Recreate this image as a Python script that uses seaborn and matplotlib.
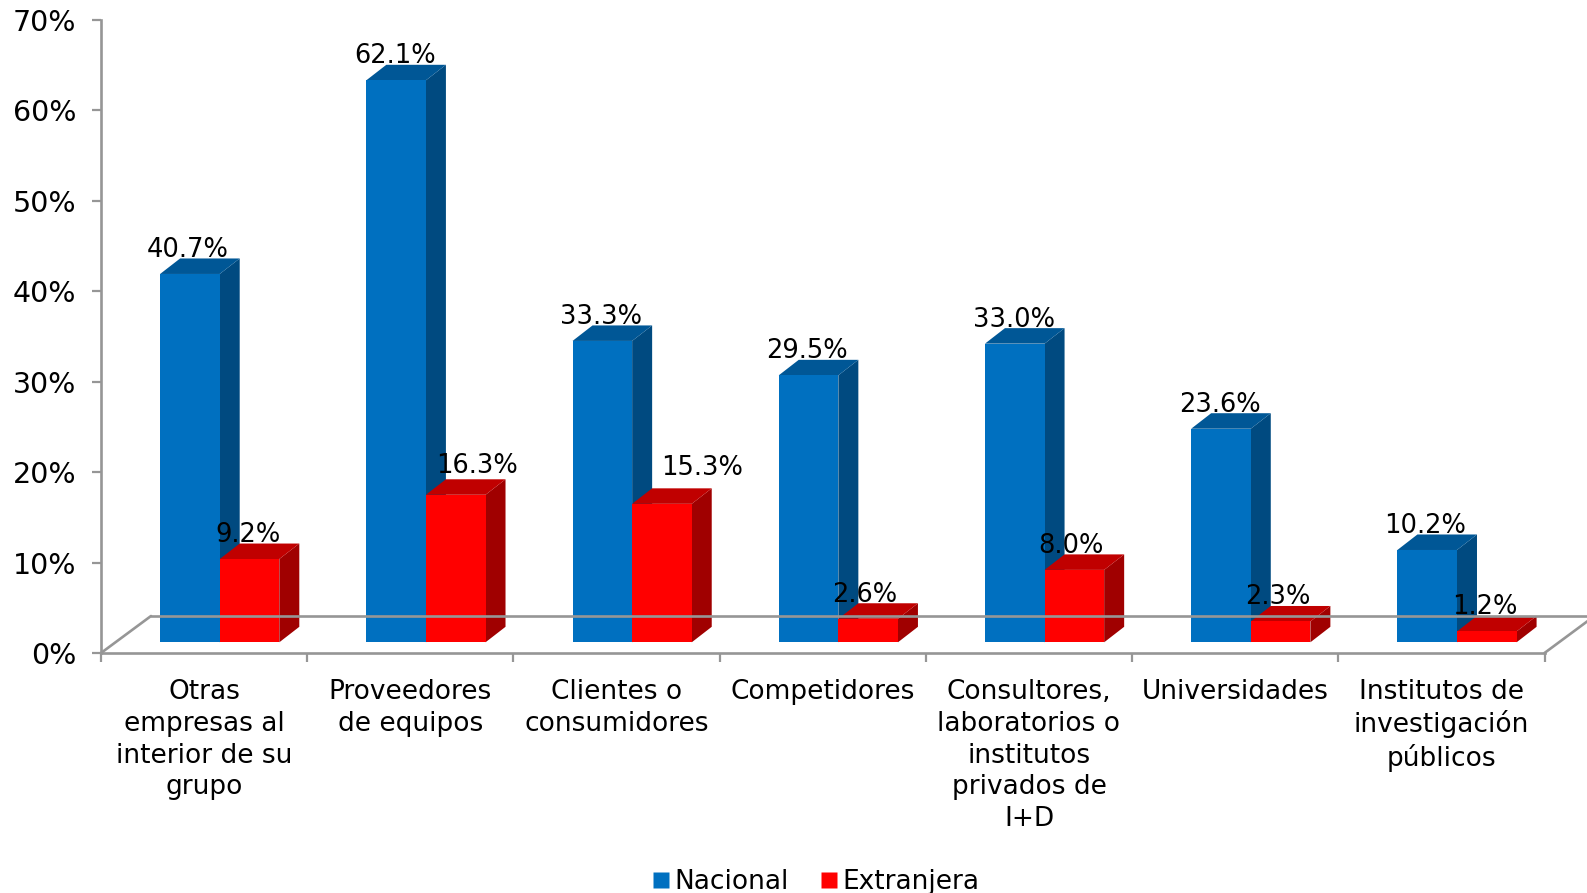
import matplotlib
matplotlib.use("Agg")
import matplotlib.pyplot as plt
from matplotlib.patches import Polygon
from matplotlib.lines import Line2D
from matplotlib.transforms import IdentityTransform, offset_copy
import numpy as np
import pandas as pd
import seaborn as sns

# Data
categories = [
    "Otras\nempresas al\ninterior de su\ngrupo",
    "Proveedores\nde equipos",
    "Clientes o\nconsumidores",
    "Competidores",
    "Consultores,\nlaboratorios o\ninstitutos\nprivados de\nI+D",
    "Universidades",
    "Institutos de\ninvestigación\npúblicos",
]
nacional = [40.7, 62.1, 33.3, 29.5, 33.0, 23.6, 10.2]
extranjera = [9.2, 16.3, 15.3, 2.6, 8.0, 2.3, 1.2]
y_ticks = [0, 10, 20, 30, 40, 50, 60, 70]

# label nudges in pixels, a couple of labels were moved by hand in the original
nudge_nacional = [-2, -1, -1, -2, -1, -1, -2]
nudge_extranjera = [-2, 21, 40, -3, -3, -3, -2]
lift_nacional = [24, 24, 24, 24, 24, 24, 24]
lift_extranjera = [24, 29, 36, 24, 24, 24, 24]

W, H = 1587, 893
LEFT, RIGHT, TOP, BOTTOM = 101, 1544.5, 19.5, 653
GRAY = "#969696"
FONT = 19

colors = {"Nacional": "#0070C0", "Extranjera": "#FF0000"}
tops = {"Nacional": "#005796", "Extranjera": "#C00000"}
sides = {"Nacional": "#004A80", "Extranjera": "#A00000"}

df = pd.DataFrame({
    "categoria": categories * 2,
    "valor": nacional + extranjera,
    "origen": ["Nacional"] * 7 + ["Extranjera"] * 7,
})

sns.set_style("white")
plt.rcParams["font.family"] = ["DejaVu Sans"]

fig = plt.figure(figsize=(W / 100, H / 100), dpi=100)
ax = fig.add_axes([LEFT / W, 1 - BOTTOM / H, (RIGHT - LEFT) / W, (BOTTOM - TOP) / H])

sns.barplot(
    data=df, x="categoria", y="valor", hue="origen",
    palette=colors, width=0.578, gap=0, saturation=1, legend=False, linewidth=0, ax=ax,
)

ax.set_xlim(-0.5, 6.5)
ax.set_ylim(0, 70)
ax.set_xlabel("")
ax.set_ylabel("")

ax.set_yticks(y_ticks, [f"{v}%" for v in y_ticks])
ax.set_xticks(np.arange(-0.5, 7, 1))
ax.set_xticklabels([])
ax.set_xticks(np.arange(7), categories, minor=True)
ax.tick_params(axis="y", which="major", length=6.5, width=1.6, color=GRAY, pad=11.5, labelsize=20.5,
               left=True, labelcolor="black")
ax.tick_params(axis="x", which="major", length=6.5, width=1.6, color=GRAY, bottom=True)
ax.tick_params(axis="x", which="minor", length=0, pad=18.7, labelsize=FONT, labelcolor="black")
for lab in ax.get_xticklabels(minor=True):
    # accented lines come out taller, so that label needs less spacing
    lab.set_linespacing(1.25 if "ó" in lab.get_text() and "ú" in lab.get_text() else 1.29)

sns.despine(ax=ax)
for side in ["left", "bottom"]:
    ax.spines[side].set_color(GRAY)
    ax.spines[side].set_linewidth(1.9)

# 3D look: everything below works in pixels, starting from the real bars
BAR_DX, BAR_DY = 15.6, 10.7    # bars stand in the middle of the floor
DEPTH_X, DEPTH_Y = 20, 15.5    # bar depth
FLOOR_X, FLOOR_Y = 50, 37      # floor depth

to_px = ax.transData.transform
(x0, y0), (x1, y1) = ax.transAxes.transform([(0, 0), (1, 0)])
px = IdentityTransform()
floor = dict(color=GRAY, lw=1.9, transform=px, clip_on=False, zorder=1)
fig.add_artist(Line2D([x0 + FLOOR_X, W], [y0 + FLOOR_Y] * 2, **floor))
fig.add_artist(Line2D([x0, x0 + FLOOR_X], [y0, y0 + FLOOR_Y], **floor))
fig.add_artist(Line2D([x1, x1 + FLOOR_X], [y1, y1 + FLOOR_Y], **floor))

shifted = offset_copy(ax.transData, fig=fig, x=BAR_DX, y=BAR_DY, units="dots")
groups = [
    ("Nacional", ax.containers[0], nudge_nacional, lift_nacional, 4),
    ("Extranjera", ax.containers[1], nudge_extranjera, lift_extranjera, 6),
]
for name, bars, nudges, lifts, z in groups:
    for bar, nudge, lift in zip(bars, nudges, lifts):
        xa, ya = to_px((bar.get_x(), 0)) + (BAR_DX, BAR_DY)
        xb, yb = to_px((bar.get_x() + bar.get_width(), bar.get_height())) + (BAR_DX, BAR_DY)
        top = [(xa, yb), (xb, yb), (xb + DEPTH_X, yb + DEPTH_Y), (xa + DEPTH_X, yb + DEPTH_Y)]
        side = [(xb, ya), (xb + DEPTH_X, ya + DEPTH_Y), (xb + DEPTH_X, yb + DEPTH_Y), (xb, yb)]
        ax.add_patch(Polygon(side, fc=sides[name], ec="none", transform=px, clip_on=False, zorder=z))
        ax.add_patch(Polygon(top, fc=tops[name], ec="none", transform=px, clip_on=False, zorder=z))
        bar.set_transform(shifted)
        bar.set_clip_on(False)
        bar.set_zorder(z + 1)
        ax.annotate(
            f"{bar.get_height():.1f}%",
            xy=(bar.get_x() + bar.get_width() / 2, bar.get_height()),
            xycoords=shifted,
            xytext=(nudge, lift),
            textcoords="offset pixels",
            ha="center", va="center", fontsize=18.5, color="black", zorder=10,
        )

# Legend
handles = [Line2D([], [], marker="s", ls="none", ms=11, mfc=colors[k], mec="none") for k in colors]
fig.legend(
    handles, list(colors), loc="center", bbox_to_anchor=(807 / W, 1 - 882 / H),
    ncol=2, frameon=False, fontsize=FONT, labelcolor="black",
    handletextpad=-0.5, columnspacing=0.55,
)

fig.savefig("out.png", dpi=100, facecolor="white")
